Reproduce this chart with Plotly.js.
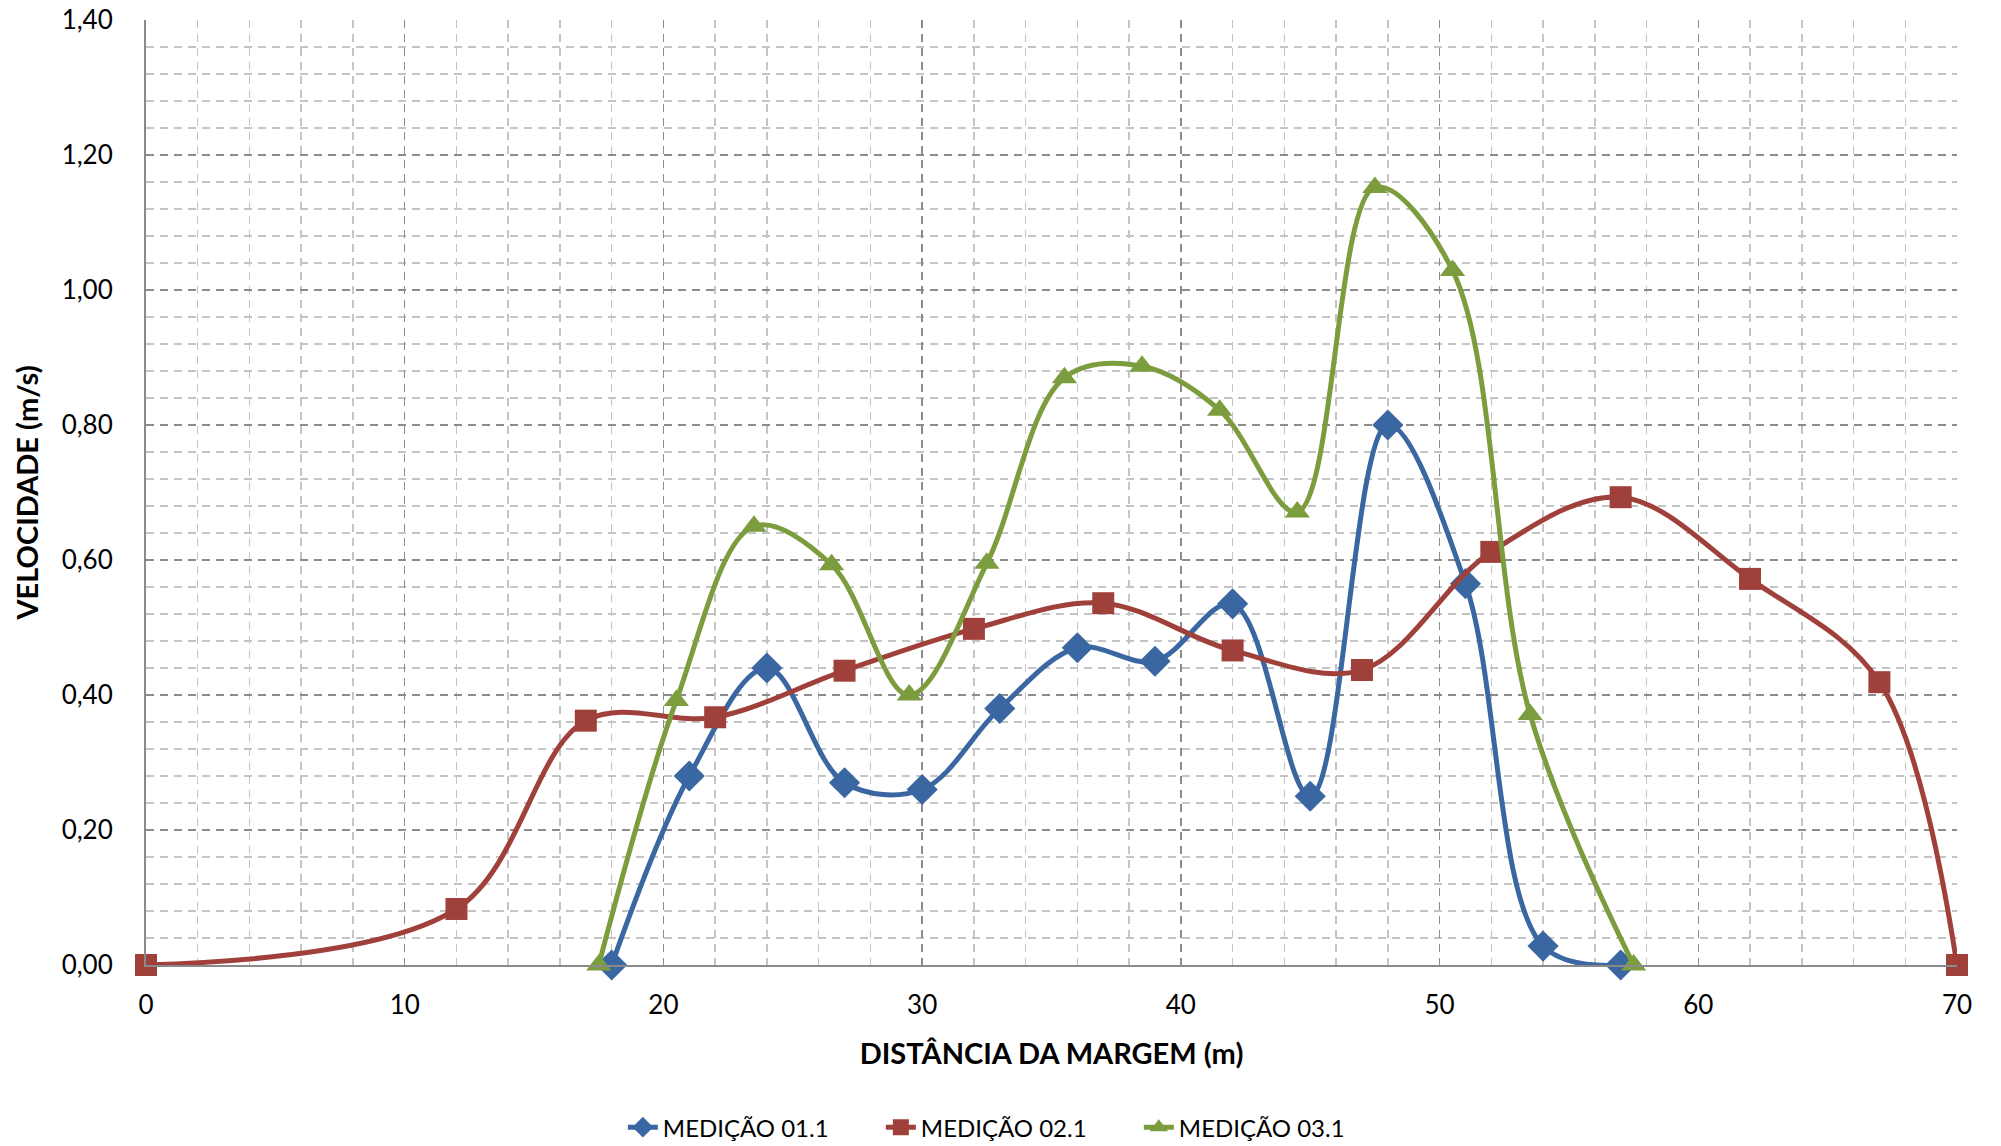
<!DOCTYPE html>
<html>
<head>
<meta charset="utf-8">
<script src="https://cdn.plot.ly/plotly-3.0.1.min.js"></script>
<style>html,body{margin:0;padding:0;background:#fff;}#chart{width:2001px;height:1146px;}</style>
</head>
<body>
<div id="chart"></div>
<script>
// Data
const x1 = [18, 21, 24, 27, 30, 33, 36, 39, 42, 45, 48, 51, 54, 57];
const y1 = [0, 0.28, 0.44, 0.27, 0.26, 0.38, 0.47, 0.45, 0.535, 0.25, 0.80, 0.565, 0.028, 0];

const x2 = [0, 12, 17, 22, 27, 32, 37, 42, 47, 52, 57, 62, 67, 70];
const y2 = [0, 0.083, 0.362, 0.367, 0.436, 0.498, 0.536, 0.466, 0.437, 0.612, 0.693, 0.572, 0.419, 0];

const x3 = [17.5, 20.5, 23.5, 26.5, 29.5, 32.5, 35.5, 38.5, 41.5, 44.5, 47.5, 50.5, 53.5, 57.5];
const y3 = [0, 0.392, 0.65, 0.593, 0.40, 0.595, 0.87, 0.887, 0.822, 0.671, 1.152, 1.029, 0.371, 0];

const seriesNames = ['MEDIÇÃO 01.1', 'MEDIÇÃO 02.1', 'MEDIÇÃO 03.1'];
const xTitle = 'DISTÂNCIA DA MARGEM (m)';
const yTitle = 'VELOCIDADE (m/s)';

const FONT = 'Lato, "Open Sans", sans-serif';

function trace(x, y, name, color, symbol, size) {
  return {
    x: x, y: y, name: name, type: 'scatter', mode: 'lines+markers',
    line: {color: color, width: 5, shape: 'spline', smoothing: 1},
    marker: {color: color, symbol: symbol, size: size, line: {width: 0}},
    cliponaxis: false
  };
}

const data = [
  trace(x1, y1, seriesNames[0], '#3A67A1', 'diamond', 24),
  trace(x2, y2, seriesNames[1], '#A0403B', 'square', 22),
  trace(x3, y3, seriesNames[2], '#7C9D3E', 'triangle-up', 22)
];

const layout = {
  width: 2001, height: 1146,
  paper_bgcolor: '#fff', plot_bgcolor: '#fff',
  separators: ',.',
  margin: {l: 146, r: 44, t: 20, b: 181, autoexpand: false},
  font: {family: FONT, size: 22, color: '#000'},
  showlegend: true,
  legend: {
    orientation: 'h', x: 0.477, xanchor: 'center', y: -0.172, yanchor: 'middle',
    font: {family: FONT, size: 24, color: '#000'}, traceorder: 'normal',
    entrywidth: 213, entrywidthmode: 'pixels'
  },
  xaxis: {
    range: [0, 70], dtick: 10, tick0: 0, zeroline: false,
    showline: true, linecolor: '#8a8a8a', linewidth: 2,
    showgrid: true, gridcolor: '#8c8c8c', gridwidth: 1.5, griddash: '8px,6px',
    minor: {dtick: 2, showgrid: true, gridcolor: '#c4c4c4', gridwidth: 1.5, griddash: '8px,6px'},
    ticks: '', ticklabelstandoff: 16,
    tickfont: {family: FONT, size: 26, color: '#000'},
    title: {text: '<b>' + xTitle + '</b>', font: {family: FONT, size: 29, color: '#000'}, standoff: 24}
  },
  yaxis: {
    range: [0, 1.4], dtick: 0.2, tick0: 0, tickformat: '.2f', zeroline: false,
    showline: true, linecolor: '#8a8a8a', linewidth: 2,
    showgrid: true, gridcolor: '#8c8c8c', gridwidth: 1.5, griddash: '8px,6px',
    minor: {dtick: 0.04, showgrid: true, gridcolor: '#c4c4c4', gridwidth: 1.5, griddash: '8px,6px'},
    ticks: '', ticklabelstandoff: 26,
    tickfont: {family: FONT, size: 26, color: '#000'},
    title: {text: '<b>' + yTitle + '</b>', font: {family: FONT, size: 29, color: '#000'}, standoff: 14}
  }
};

Plotly.newPlot('chart', data, layout, {displayModeBar: false, staticPlot: true});
</script>
</body>
</html>
